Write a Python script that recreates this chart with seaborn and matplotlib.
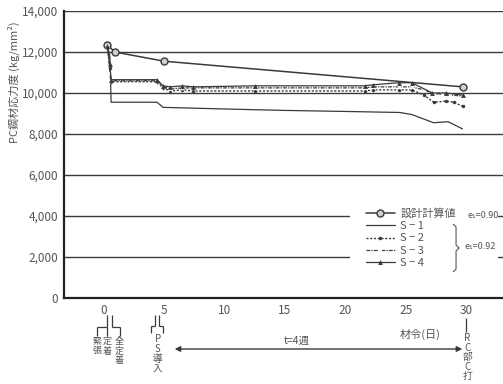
import matplotlib
matplotlib.use("Agg")
import matplotlib.pyplot as plt
import seaborn as sns
import pandas as pd
import numpy as np
from matplotlib.ticker import MultipleLocator, FuncFormatter

# ---------------- data ----------------
design_days = [0.3, 0.9, 5.0, 29.7]
design_vals = [12350, 12000, 11550, 10300]

s1_days = [0.3, 0.5, 0.6, 4.4, 4.9, 10, 15, 20, 24.5, 25.5, 27.3, 28.5, 29.7]
s1_vals = [12300, 11800, 9550, 9550, 9300, 9220, 9150, 9100, 9050, 8950, 8550, 8600, 8250]

s2_days = [0.3, 0.5, 0.6, 4.4, 4.9, 5.5, 6.5, 7.4, 12.5, 21.6, 22.3, 24.4, 25.5, 26.5, 27.3, 28.3, 29.0, 29.7]
s2_vals = [12300, 11200, 10550, 10550, 10250, 10100, 10150, 10100, 10100, 10100, 10150, 10150, 10150, 9900, 9550, 9600, 9550, 9350]

s3_days = [0.3, 0.5, 0.6, 4.4, 4.9, 5.5, 6.5, 7.4, 12.5, 21.6, 22.3, 24.4, 25.5, 26.5, 27.3, 28.0, 28.7, 29.7]
s3_vals = [12300, 11000, 10600, 10600, 10300, 10200, 10250, 10250, 10250, 10250, 10300, 10300, 10300, 10150, 9950, 9950, 9900, 9850]

s4_days = [0.3, 0.5, 0.6, 4.4, 4.9, 5.5, 6.5, 7.4, 12.5, 21.6, 22.3, 24.4, 25.5, 27.2, 28.3, 29.7]
s4_vals = [12300, 11400, 10650, 10650, 10350, 10300, 10350, 10300, 10350, 10350, 10400, 10500, 10500, 10000, 10000, 9900]

series_labels = ["設計計算値", "S − 1", "S − 2", "S − 3", "S − 4"]
y_ticks = [0, 2000, 4000, 6000, 8000, 10000, 12000, 14000]
x_ticks = [0, 5, 10, 15, 20, 25, 30]

# ---------------- style ----------------
sns.set_style("white")
plt.rcParams["font.family"] = ["Noto Sans CJK JP", "DejaVu Sans"]
INK = "#3a3a3a"
TXT = "#555555"

fig = plt.figure(figsize=(5.03, 3.84), dpi=100)
L, B = 64 / 503, 1 - 298 / 384
ax = fig.add_axes([L, B, 1 - L, (298 - 11) / 384])

X0, X1 = -3.3, 33.05
ax.set_xlim(X0, X1)
ax.set_ylim(0, 14000)

# grid lines (some interrupted by legend)
def frac(d):
    return (d - X0) / (X1 - X0)

for v in [6000, 8000, 10000, 12000, 14000]:
    ax.axhline(v, color=INK, lw=1.0, zorder=1)
for v in [2000, 4000]:
    ax.axhline(v, xmin=0, xmax=frac(20.3), color=INK, lw=1.0, zorder=1)
    ax.axhline(v, xmin=frac(32.6), xmax=1, color=INK, lw=1.0, zorder=1)

# ---------------- series ----------------
def draw(days, vals, label, **kw):
    df = pd.DataFrame({"day": days, "val": vals})
    sns.lineplot(data=df, x="day", y="val", ax=ax, sort=False, estimator=None,
                 label=label, color=INK, zorder=3, **kw)

draw(design_days, design_vals, series_labels[0], lw=1.1, marker="o", markersize=5,
     markerfacecolor="#cfcfcf", markeredgecolor=INK, markeredgewidth=1.0)
draw(s1_days, s1_vals, series_labels[1], lw=0.9)
draw(s2_days, s2_vals, series_labels[2], lw=1.0, linestyle=(0, (1.5, 1.2)), marker="o",
     markersize=2.5, markeredgewidth=0)
draw(s3_days, s3_vals, series_labels[3], lw=0.9, linestyle=(0, (3, 1, 1, 1)), marker="x",
     markersize=3.5, markeredgewidth=0.9)
draw(s4_days, s4_vals, series_labels[4], lw=0.9, marker="^", markersize=3.5, markeredgewidth=0)

# ---------------- axes ----------------
for s in ["top", "right"]:
    ax.spines[s].set_visible(False)
for s in ["left", "bottom"]:
    ax.spines[s].set_color("#222222")
    ax.spines[s].set_linewidth(1.6)

ax.set_yticks(y_ticks)
ax.yaxis.set_major_formatter(FuncFormatter(lambda v, p: f"{int(v):,}"))
ax.set_xticks(x_ticks)
ax.xaxis.set_minor_locator(MultipleLocator(1))
ax.tick_params(axis="x", which="both", direction="inout", length=5, width=1.0,
               color=INK, labelsize=8.5, labelcolor=TXT, pad=2)
ax.tick_params(axis="y", direction="out", length=3, width=0.8, color=INK,
               labelsize=8.5, labelcolor=TXT, pad=1)
ax.set_xlabel("")
ax.set_ylabel("")
fig.text(0.028, 1 - 82 / 384, "PC鋼材応力度 (kg/mm²)", rotation=90, va="center",
         ha="center", fontsize=8, color=TXT)

# ---------------- legend ----------------
handles, labels = ax.get_legend_handles_labels()
leg = ax.legend(handles, labels, loc="upper left",
                bbox_to_anchor=((366 - 64) / 439, (298 - 208) / 287),
                frameon=False, fontsize=8, handlelength=2.6, handletextpad=0.5,
                labelspacing=0.22, borderpad=0, borderaxespad=0)
for t in leg.get_texts():
    t.set_color(TXT)

def py(y):
    return (298 - y) * 14000 / 287

def pd_(x):
    return (x - 104) / 12.07

def seg(xs, ys, lw=0.9, color=INK):
    ax.plot([pd_(x) for x in xs], [py(y) for y in ys], color=color, lw=lw,
            clip_on=False, solid_capstyle="butt")

# brace spanning S-1 .. S-4
seg([453, 456, 456, 459, 456, 456, 453],
    [224, 227, 245, 248, 251, 269, 272], lw=0.8, color=TXT)
ax.text(pd_(467), py(216), "e₁=0.90", fontsize=6.5, color=TXT, va="center", ha="left")
ax.text(pd_(464), py(247), "e₁=0.92", fontsize=6.5, color=TXT, va="center", ha="left")

# ---------------- annotations below the axis ----------------
# day 0 bracket
seg([107.5, 107.5], [315, 327])
seg([112, 112], [315, 327])
seg([97, 107.5], [327, 327])
seg([112, 120], [327, 327])
seg([97, 97], [327, 336])
seg([120, 120], [327, 336])
seg([107.5, 107.5], [327, 336])
for x, txt in [(97, "緊\n張"), (107.5, "定\n着"), (119, "全\n定\n着")]:
    ax.text(pd_(x), py(337), txt, fontsize=6.5, color=TXT, ha="center", va="top",
            linespacing=1.05, clip_on=False)

# day 5 bracket
seg([155, 155], [315, 326])
seg([159, 159], [315, 326])
seg([151, 155], [326, 326])
seg([159, 163], [326, 326])
seg([151, 151], [326, 333])
seg([163, 163], [326, 333])
ax.text(pd_(158), py(334), "P\nS\n導\n入", fontsize=7, color=TXT, ha="center",
        va="top", linespacing=1.0, clip_on=False)

# arrow t = 4 weeks
ax.annotate("", xy=(pd_(172), py(349)), xytext=(pd_(465), py(349)),
            arrowprops=dict(arrowstyle="<|-|>", color=INK, lw=1.0, mutation_scale=8),
            annotation_clip=False)
ax.text(pd_(297), py(341), "t=4週", fontsize=7.5, color=TXT, ha="center", va="center")
ax.text(pd_(420), py(334), "材令(日)", fontsize=8, color=TXT, ha="center", va="center")

# RC concrete placing
seg([466, 466], [318, 332])
ax.text(pd_(467), py(333), "R\nC\n部\nC\n打", fontsize=7, color=TXT, ha="center",
        va="top", linespacing=0.95, clip_on=False)

fig.savefig("out.png", dpi=100)
